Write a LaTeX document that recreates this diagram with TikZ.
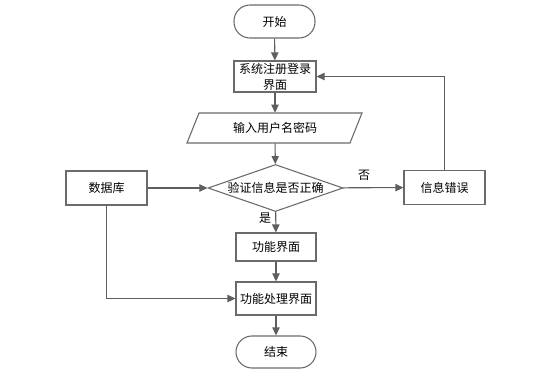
\documentclass[tikz,border=0pt]{standalone}
\usepackage{fontspec}
\newfontfamily\cjk{Noto Sans CJK SC}
\usetikzlibrary{shapes.geometric,arrows.meta}
\definecolor{linegray}{HTML}{5E5E5E}
\definecolor{bordergray}{HTML}{6A6A6A}
\begin{document}
\begin{tikzpicture}[x=0.75pt,y=-0.75pt,
  every node/.style={font=\cjk\fontsize{9pt}{12pt}\selectfont, text=black},
  box/.style={draw=bordergray, line width=0.8pt, fill=white, inner sep=1pt, align=center},
  term/.style={box, rounded corners=12pt},
  arr/.style={draw=linegray, line width=0.8pt, -{Triangle[length=6pt,width=5.5pt]}},
  lbl/.style={inner sep=0pt}]
\useasboundingbox (0,0) rectangle (556,374);
\node[term, minimum width=60.75pt, minimum height=24.75pt] (start) at (274.5,21.5) {开始};
\node[box, minimum width=61.5pt, minimum height=23.25pt] (reg) at (275,76.5) {系统注册登录\\界面};
\node[inner sep=0pt, minimum width=122pt, minimum height=22.5pt] (input) at (275,128) {};
\draw[bordergray, line width=0.8pt, fill=white] (199,113) -- (362,113) -- (350,143) -- (187,143) -- cycle;
\node[lbl] at (input) {输入用户名密码};
\node[box, diamond, aspect=2.87, inner sep=0pt, minimum width=101.25pt, minimum height=35.25pt] (check) at (275.5,188) {验证信息是否正确};
\node[box, minimum width=60.75pt, minimum height=25.5pt] (db) at (106.5,188) {数据库};
\node[box, minimum width=60.75pt, minimum height=26pt] (err) at (444.5,187.5) {信息错误};
\node[box, minimum width=60pt, minimum height=21pt] (func) at (276,247) {功能界面};
\node[box, minimum width=60pt, minimum height=24.75pt] (proc) at (276,298.5) {功能处理界面};
\node[term, minimum width=60pt, minimum height=24pt] (end) at (276,352) {结束};
\draw[arr] (start) -- (reg);
\draw[arr] (reg) -- (input);
\draw[arr] (input) -- (check);
\draw[arr] (db) -- (check);
\draw[arr] (check) -- node[lbl, above=5pt, pos=0.35] {否} (err);
\draw[arr] (check) -- node[lbl, left=3pt, pos=0.3] {是} (func);
\draw[arr] (err.north) |- (reg.east);
\draw[arr] (func) -- (proc);
\draw[arr] (db.south) |- (proc.west);
\draw[arr] (proc) -- (end);
\end{tikzpicture}
\end{document}
